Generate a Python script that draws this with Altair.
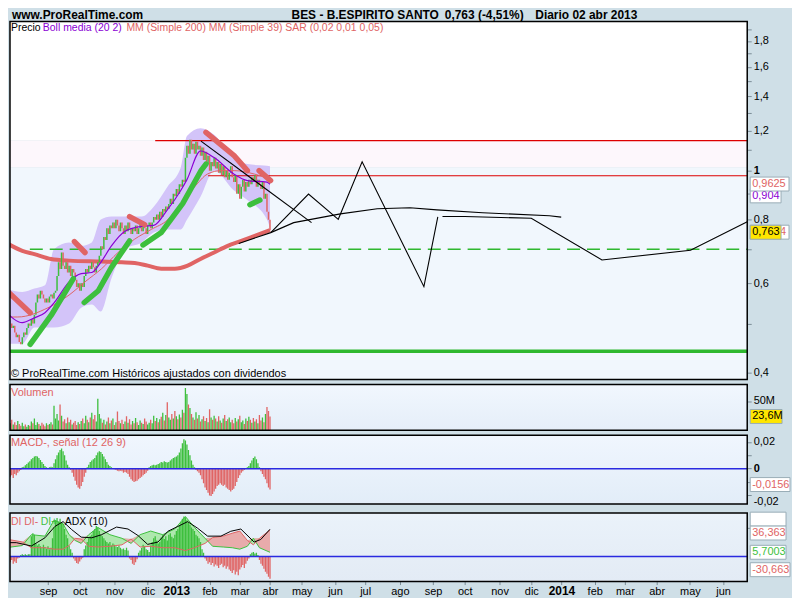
import json
import altair as alt
import numpy as np
import pandas as pd

# ---------------- calendar / axis labels ----------------
ORIGIN = "2012-09-03"          # trading-day index 0
FIRST_BAR_DATE = "2012-07-27"
HOLIDAYS = ["2012-12-25", "2012-12-26", "2013-01-01", "2013-03-29", "2013-04-01",
            "2013-05-01", "2013-12-25", "2013-12-26", "2014-01-01"]
MONTH_STARTS = ["2012-09-01", "2012-10-01", "2012-11-01", "2012-12-01", "2013-01-01",
                "2013-02-01", "2013-03-01", "2013-04-01", "2013-05-01", "2013-06-01",
                "2013-07-01", "2013-08-01", "2013-09-01", "2013-10-01", "2013-11-01",
                "2013-12-01", "2014-01-01", "2014-02-01", "2014-03-01", "2014-04-01",
                "2014-05-01", "2014-06-01"]
MONTH_LABELS = ["sep", "oct", "nov", "dic", "2013", "feb", "mar", "abr", "may", "jun",
                "jul", "ago", "sep", "oct", "nov", "dic", "2014", "feb", "mar", "abr",
                "may", "jun"]

# ---------------- daily series (one value per trading day) ----------------
CLOSE = [0.50, 0.49, 0.495, 0.48, 0.47, 0.475, 0.46, 0.455,
         0.47, 0.48, 0.475, 0.49, 0.50, 0.495, 0.51,
         0.50, 0.52, 0.55, 0.57, 0.56, 0.58, 0.57, 0.56, 0.55,
         0.56, 0.55, 0.565, 0.57, 0.56, 0.575, 0.58,
         0.62, 0.66, 0.64, 0.69, 0.65,
         0.64, 0.66, 0.63, 0.65, 0.62, 0.64, 0.63,
         0.61, 0.59, 0.60, 0.58, 0.60, 0.59,
         0.62, 0.64, 0.63, 0.65, 0.64, 0.66, 0.645, 0.63, 0.65, 0.66,
         0.68, 0.71, 0.70, 0.74, 0.73, 0.77, 0.75, 0.78, 0.77,
         0.79, 0.77, 0.80, 0.78, 0.76, 0.79, 0.77, 0.75, 0.78, 0.76, 0.79, 0.77, 0.75,
         0.77, 0.76, 0.78, 0.75, 0.77, 0.79, 0.76, 0.78, 0.77, 0.75, 0.78, 0.79, 0.77,
         0.79, 0.81, 0.80, 0.82, 0.80, 0.83, 0.81, 0.84, 0.83, 0.85, 0.84, 0.86,
         0.88, 0.86, 0.90, 0.89, 0.92, 0.90, 0.94, 0.93, 0.96, 0.95,
         1.06, 1.12, 1.08, 1.15, 1.10,
         1.13, 1.08, 1.14, 1.10, 1.12, 1.07, 1.11,
         1.05, 1.09, 1.03, 1.07, 1.00, 1.04, 1.02, 1.06,
         1.01, 1.04, 0.99, 1.03, 0.98, 1.02, 0.97, 1.00, 0.96, 0.99, 1.02, 0.97, 0.95,
         0.98, 0.90, 0.94, 0.88, 0.93, 0.96, 0.91, 0.95, 0.93,
         0.96, 0.94, 0.97, 0.95, 0.98, 0.93, 0.96, 0.94,
         0.92, 0.95, 0.88, 0.90, 0.83, 0.80, 0.763]

VOLUME_M = [12, 18, 10, 14, 9, 16, 11,
            8, 13, 7, 10, 6, 9, 8,
            15, 12, 20, 9, 14, 11, 8, 13, 10, 7, 12, 9,
            11, 14, 10,
            42, 20, 28, 17, 44, 25,
            15, 19, 12, 22, 14, 18, 10, 13, 16, 9, 14, 11,
            16, 20, 12, 25, 18, 14, 22, 30, 19, 26, 15, 54, 28, 20,
            13, 18, 10, 15, 22, 12, 17, 20, 9, 14, 32, 16, 12,
            18, 11, 15, 24, 13, 19, 10, 16, 12, 21, 14, 9, 17, 13, 11, 20, 15, 10,
            13, 18, 12, 25, 16, 21, 14, 19, 23, 30, 17, 26, 48, 22,
            18, 28, 20, 33, 24, 19, 27, 22, 35, 30,
            72, 62, 44, 38, 28,
            22, 18, 31, 20, 26, 15, 19, 24, 16, 21, 14,
            36, 22, 18, 25, 20, 15, 24, 17, 13, 20, 26, 16, 19, 22, 14,
            18, 12, 21, 15, 19, 25, 14, 17, 11, 20, 16, 23, 18, 13, 21,
            15, 19, 12, 26, 17, 22, 14, 28, 40, 33, 23.6]

MACD_HIST_MILLI = [-6, -5, -7, -4, -5, -3,
                   -2, -1, 1,
                   1.5, 2.5, 3.5, 4.5, 5.5, 7, 8, 9, 9.5, 9, 8, 6.5, 5, 3.5, 2,
                   1, 0.5, 1, 1.5, 1,
                   4, 7, 10, 12, 14, 15, 13, 10, 6,
                   3, 1, -1,
                   -3, -6, -9, -12, -14, -15, -13, -10, -6, -3,
                   1, 3, 5, 6, 7, 8, 10, 12, 13, 12.5, 11, 9, 7, 5, 3, 2, 1,
                   0.5, -0.5,
                   -1, -1.5, -2, -1.5, -2, -3, -2.5, -3, -4, -6, -8, -9, -10, -9.5, -9, -8,
                   -7, -6, -5, -4, -3, -1.5,
                   1, 2, 2.5, 3, 2.5, 3, 3.5,
                   4, 5, 4.5, 5.5, 5, 4.5, 5,
                   6, 7, 8, 8.5, 9, 10,
                   12, 15, 19, 22, 21, 18,
                   14, 10, 6, 3,
                   1, -1,
                   -2, -3, -5, -8, -11, -14, -16,
                   -18, -20, -20.5, -19, -17, -15, -13,
                   -12, -11, -12, -13, -12, -14, -15,
                   -16, -17, -16, -15, -13, -10, -7,
                   -5, -3, -2, -1, 0.5, 1,
                   2, 4, 6, 8, 9, 7, 4, 1,
                   -2, -4, -6, -8, -11, -14, -15.6]

DI_HIST = [-8, -5, -10, -7, -9, -3, -2,
           2, 3, 2, 3, 2, 3, 3,
           28, 32, 30,
           18, 15, 17, 14, 12, 16, 13, 11, 14, 10, 12,
           25, 40, 50, 53, 48, 52, 47, 45, 38, 30, 25,
           15, 10, 5, -3, -6, -9, -10, -7, -4, -2,
           10, 15, 20, 25, 28, 30, 35, 38, 42, 40, 35, 30,
           28, 25, 22, 20, 18, 20, 15, 18, 16, 14, 13, 15, 12, 10, 11, 9, 12, 8,
           -3, -5, -10, -12, -8, -4,
           5, 8, 12, 16, 14, 10, 9, 6,
           15, 20, 25, 28, 22, 18, 20, 26, 30, 24, 28, 22, 30, 32, 27, 25, 30, 35, 38,
           42, 48, 52, 55, 54, 50, 47, 44, 40, 38, 35, 30, 28, 25, 20,
           10, 5,
           -3, -6, -10, -8, -12, -9, -14, -11, -13, -16, -12, -10, -15, -13, -17,
           -14, -18, -20, -23, -19, -25, -21, -26, -18, -15, -12, -16, -10, -6, -3,
           3, 5, 6, 4, 5, 2,
           -5, -10, -13, -17, -21, -24, -28, -30.663]

# ---------------- indicator lines (trading-day index, value) ----------------
BB_IDX = [-29, -18, -10, -3, 3, 13, 21, 28, 34, 41, 50, 61, 69, 78, 87, 91, 100, 109, 122, 131, 144, 146]
BB_UP = [0.586, 0.577, 0.586, 0.595, 0.70, 0.722, 0.711, 0.722, 0.801, 0.812, 0.812, 0.812, 0.849,
         0.929, 1.015, 1.17, 1.212, 1.177, 1.061, 1.03, 1.022, 1.02]
BB_MID = [0.528, 0.502, 0.513, 0.525, 0.549, 0.604, 0.627, 0.630, 0.660, 0.711, 0.760, 0.777, 0.780,
          0.837, 0.915, 0.96, 1.093, 1.061, 0.985, 0.956, 0.949, 0.94]
BB_LOW = [0.456, 0.456, 0.491, 0.491, 0.491, 0.50, 0.537, 0.545, 0.528, 0.613, 0.70, 0.722, 0.755,
          0.766, 0.766, 0.80, 0.888, 1.0, 0.915, 0.875, 0.801, 0.77]

MM39_IDX = [-29, -21, -1, 13, 23.5, 34.5, 45.4, 56.4, 67.4, 78.4, 87, 96, 104.7, 113.5, 122.3, 135.5, 146]
MM39 = [0.515, 0.515, 0.537, 0.569, 0.604, 0.641, 0.69, 0.733, 0.766, 0.801, 0.862, 0.929, 0.985,
        1.0, 1.0, 0.985, 0.9625]

MM200_IDX = [-29, -18, -10, 1, 13, 34.5, 48, 56.4, 65, 74, 83, 91.5, 100, 109, 118, 127, 135.5, 146]
MM200 = [0.722, 0.695, 0.685, 0.670, 0.665, 0.662, 0.660, 0.658, 0.650, 0.641, 0.641, 0.650, 0.670,
         0.690, 0.711, 0.727, 0.743, 0.7634]

SAR_SEG = ["r1", "r1", "g1", "g1", "g1", "r2", "r2", "g2", "g2", "g2", "g2", "r3", "r3",
           "g3", "g3", "g3", "g3", "g3", "r4", "r4", "r4", "g4", "g4", "r5", "r5"]
SAR_IDX = [-29, -12.8, -12.8, 1.5, 15.8, 16.5, 23.5, 23, 32.3, 41, 53, 53, 63,
           61.9, 74, 88.3, 100.3, 103.6, 103.6, 122.3, 131, 132.7, 139.3, 138.8, 146.4]
SAR_VAL = [0.583, 0.525, 0.455, 0.521, 0.613, 0.725, 0.690, 0.55, 0.58, 0.645, 0.727, 0.812, 0.783,
           0.714, 0.755, 0.862, 1.0, 1.03, 1.19, 1.07, 1.0, 0.857, 0.875, 1.0, 0.956]

DRAW_LINE = ["a", "a",
             "b", "b", "b", "b", "b", "b", "b", "b", "b", "b",
             "c", "c", "c", "c", "c", "c",
             "d", "d", "d", "d", "d", "d"]
DRAW_IDX = [100.3, 173.5,
            125.3, 146.5, 161.7, 192.6, 217, 238.7, 256.5, 286.8, 331, 338.8,
            146.5, 171.5, 191.2, 207, 247.9, 257.1,
            260.2, 274.9, 319, 365.8, 424.4, 462]
DRAW_VAL = [1.143, 0.790,
            0.719, 0.755, 0.790, 0.822, 0.841, 0.845, 0.837, 0.826, 0.815, 0.810,
            0.755, 0.899, 0.802, 1.041, 0.591, 0.811,
            0.812, 0.812, 0.806, 0.667, 0.697, 0.793]

RED_LEVEL_START = [70, 105]
RED_LEVEL = [1.146, 0.977]
GREEN_DASH_START, GREEN_DASH_LEVEL = -13, 0.70
GREEN_THICK_LEVEL = 0.441

DI_IDX = [-29, -18, -12, -3, 3, 9, 13, 17, 21, 26, 32, 40, 48, 54, 60, 67, 75, 83, 90, 96, 103, 108,
          115, 121, 126, 131, 135, 139, 146]
DI_PLUS = [12, 15, 30, 28, 50, 45, 30, 22, 18, 30, 40, 30, 25, 18, 30, 35, 30, 38, 55, 40, 25, 14,
           13, 12, 10, 14, 25, 12, 5.7003]
DI_MINUS = [24, 20, 12, 12, 10, 10, 15, 25, 24, 14, 13, 14, 16, 24, 13, 14, 12, 12, 8, 12, 18, 26,
            28, 32, 35, 22, 16, 25, 36.363]
ADX_IDX = [-29, -22, -12, -3, 3.6, 9, 14.7, 21, 28, 34.5, 44.4, 52, 58.6, 65, 71.8, 78.4, 85, 91.5,
           98, 104.7, 113.5, 120, 126.7, 135.5, 139.9, 146]
ADX = [19, 19, 14.4, 25.7, 41.4, 48, 37, 26.6, 25.7, 30, 40.5, 37.8, 28.8, 16.6, 19.8, 34.7, 41.4,
       48, 39, 28, 28, 34.7, 37.8, 19.8, 23.4, 37.5]

# ---------------- layout ----------------
W = 741
H_MAIN, H_VOL, H_MACD, H_DI = 360, 46, 69, 69
X_MIN, X_MAX = -26.15, 461.97
FONT = "Liberation Sans"
GREEN = "#3dbf3d"
RED = "#e06464"
PURPLE = "#8a00d4"


def busidx(d):
    return int(np.busday_count(ORIGIN, d, holidays=HOLIDAYS))


first = busidx(FIRST_BAR_DATE)
n = len(CLOSE)
opens = [CLOSE[0]] + CLOSE[:-1]
bars = pd.DataFrame({
    "idx": np.arange(first, first + n),
    "open": opens,
    "close": CLOSE,
    "vol": VOLUME_M,
    "macd": MACD_HIST_MILLI,
    "dih": DI_HIST,
    "zero": 0.0,
})
bars["col"] = np.where(bars["close"] >= bars["open"], GREEN, RED)
bars["mcol"] = np.where(bars["macd"] >= 0, GREEN, RED)
bars["dcol"] = np.where(bars["dih"] >= 0, GREEN, RED)

xsc = alt.Scale(domain=[X_MIN, X_MAX], nice=False, zero=False)

MONTH_IDX = [busidx(d) for d in MONTH_STARTS]
YEAR_IDX = [i for i, l in zip(MONTH_IDX, MONTH_LABELS) if l.isdigit()]
year_test = " || ".join(f"datum.value == {i}" for i in YEAR_IDX)
X_AXIS = alt.Axis(
    values=MONTH_IDX,
    labelExpr=f"{json.dumps(MONTH_LABELS)}[indexof({json.dumps(MONTH_IDX)}, datum.value)]",
    labelFontWeight={"condition": {"test": year_test, "value": "bold"}, "value": "normal"},
    labelFontSize={"condition": {"test": year_test, "value": 12}, "value": 11},
    tickSize=3, labelPadding=1, labelOverlap=False, labelFlush=False, title=None,
)


def xenc(field, axis=None):
    return alt.X(f"{field}:Q", scale=xsc, axis=axis, title=None)


# main price scale (log)
psc = alt.Scale(type="log", domain=[0.3877, 1.967], nice=False)
P_TICKS = [0.4, 0.5, 0.6, 0.7, 0.8, 0.9, 1.0, 1.1, 1.2, 1.3, 1.4, 1.5, 1.6, 1.7, 1.8, 1.9]
P_LABELED = [0.4, 0.6, 0.8, 1.0, 1.2, 1.4, 1.6, 1.8]
MAIN_AXIS = alt.Axis(
    orient="right", values=P_TICKS, title=None,
    labelExpr=f"indexof({json.dumps(P_LABELED)}, datum.value) >= 0 ? replace(format(datum.value, '.1~f'), '.', ',') : ''",
    labelFontWeight={"condition": {"test": "datum.value == 1", "value": "bold"}, "value": "normal"},
)


def ymain(field):
    return alt.Y(f"{field}:Q", scale=psc, axis=MAIN_AXIS, title=None)


def badges(rows, yfn):
    """rows: value, text, text colour, fill, box width, y offset, text x offset"""
    out = []
    for val, txt, tc, fill, w, dy, tx in rows:
        d = pd.DataFrame({"v": [val], "t": [txt]})
        r = 14.0 / w
        path = f"M-1,{-r:.4f}L1,{-r:.4f}L1,{r:.4f}L-1,{r:.4f}Z"
        out.append(alt.Chart(d).mark_point(shape=path, size=w * w, filled=True, fill=fill,
                                           stroke="#98acb6", strokeWidth=1, opacity=1, yOffset=dy)
                   .encode(x=alt.value(W + 3 + w / 2), y=yfn("v")))
        if txt:
            out.append(alt.Chart(d).mark_text(align="left", baseline="middle", font=FONT, fontSize=11,
                                              color=tc, dy=dy)
                       .encode(x=alt.value(W + 5 + tx), y=yfn("v"), text="t:N"))
    return out


def label(txt, x, y, color, size=11, weight="normal"):
    return alt.Chart(pd.DataFrame({"t": [txt]})).mark_text(
        align="left", baseline="middle", font=FONT, fontSize=size, fontWeight=weight, color=color
    ).encode(x=alt.value(x), y=alt.value(y), text="t:N")


def frame(h):
    return alt.Chart(pd.DataFrame({"a": [0]})).mark_rect(filled=False, stroke="#000000", strokeWidth=1.5).encode(
        x=alt.value(0), x2=alt.value(W), y=alt.value(0), y2=alt.value(h))


def grad_bg(h, c1, c2):
    g = alt.LinearGradient(gradient="linear", x1=0, x2=0, y1=0, y2=1,
                           stops=[alt.GradientStop(color=c1, offset=0), alt.GradientStop(color=c2, offset=1)])
    return alt.Chart(pd.DataFrame({"a": [0]})).mark_rect(color=g).encode(
        x=alt.value(0), x2=alt.value(W), y=alt.value(0), y2=alt.value(h))


# ---------------- main panel ----------------
bg_df = pd.DataFrame({"top": [1.967, 1.146, 1.014], "bot": [1.146, 1.014, 0.3877],
                      "c": ["#ffffff", "#fdf7fc", "#f1f7fd"]})
bg = alt.Chart(bg_df).mark_rect().encode(x=alt.value(0), x2=alt.value(W), y=ymain("top"), y2="bot:Q",
                                         color=alt.Color("c:N", scale=None))

bb = pd.DataFrame({"idx": BB_IDX, "up": BB_UP, "mid": BB_MID, "lo": BB_LOW})
band = alt.Chart(bb).mark_area(color="#d3c4f9", interpolate="monotone", clip=True).encode(
    x=xenc("idx"), y=ymain("up"), y2="lo:Q")

red_df = pd.DataFrame({"x0": RED_LEVEL_START, "x1": [X_MAX] * len(RED_LEVEL), "p": RED_LEVEL})
red_lv = alt.Chart(red_df).mark_rule(color="#dd0000", strokeWidth=1.2).encode(
    x=xenc("x0"), x2="x1:Q", y=ymain("p"))
gd_df = pd.DataFrame({"x0": [GREEN_DASH_START], "x1": [X_MAX], "p": [GREEN_DASH_LEVEL]})
green_dash = alt.Chart(gd_df).mark_rule(color="#2fb82f", strokeWidth=1.5, strokeDash=[13, 7]).encode(
    x=xenc("x0"), x2="x1:Q", y=ymain("p"))
gt_df = pd.DataFrame({"x0": [X_MIN], "x1": [X_MAX], "p": [GREEN_THICK_LEVEL]})
green_thick = alt.Chart(gt_df).mark_rule(color="#2fb82f", strokeWidth=3.5).encode(
    x=xenc("x0"), x2="x1:Q", y=ymain("p"))

mm200 = alt.Chart(pd.DataFrame({"idx": MM200_IDX, "v": MM200})).mark_line(
    color=RED, strokeWidth=4, interpolate="monotone", clip=True).encode(x=xenc("idx"), y=ymain("v"))

price_bars = alt.Chart(bars).mark_rule(strokeWidth=1.5, clip=True).encode(
    x=xenc("idx"), y=ymain("open"), y2="close:Q", color=alt.Color("col:N", scale=None))

mm39 = alt.Chart(pd.DataFrame({"idx": MM39_IDX, "v": MM39})).mark_line(
    color=RED, strokeWidth=1, interpolate="monotone", clip=True).encode(x=xenc("idx"), y=ymain("v"))
bmid = alt.Chart(bb).mark_line(color=PURPLE, strokeWidth=1.2, interpolate="monotone", clip=True).encode(
    x=xenc("idx"), y=ymain("mid"))

sar_df = pd.DataFrame({"seg": SAR_SEG, "idx": SAR_IDX, "v": SAR_VAL, "ord": range(len(SAR_SEG))})
sar_df["col"] = np.where(sar_df["seg"].str.startswith("g"), GREEN, RED)
sar = alt.Chart(sar_df).mark_line(strokeWidth=5.5, strokeCap="round", clip=True).encode(
    x=xenc("idx"), y=ymain("v"), detail="seg:N", order="ord:Q", color=alt.Color("col:N", scale=None))

draw_df = pd.DataFrame({"line": DRAW_LINE, "idx": DRAW_IDX, "v": DRAW_VAL, "ord": range(len(DRAW_LINE))})
draws = alt.Chart(draw_df).mark_line(color="#000000", strokeWidth=1.1, clip=True).encode(
    x=xenc("idx"), y=ymain("v"), detail="line:N", order="ord:Q")

main_badges = badges([
    (0.904, "0,904", PURPLE, "#ffffff", 31, 3, 0),
    (0.9625, "0,9625", RED, "#ffffff", 39, 5, 0),
    (0.7634, "4", RED, "#ffffff", 39, 2, 28),
    (0.763, "0,763", "#000000", "#ffe600", 31, 2, 0),
], ymain)

main = alt.layer(
    bg, band, red_lv, green_dash, green_thick, mm200, price_bars, mm39, bmid, sar, draws,
    label("Precio", 1, 7, "#000000", 10.5),
    label("Boll media (20 2)", 33, 7, PURPLE, 10.5),
    label("MM (Simple 200) MM (Simple 39) SAR (0,02 0,01 0,05)", 117, 7, RED, 10.5),
    label("© ProRealTime.com  Históricos ajustados con dividendos", 1, H_MAIN - 6, "#000000"),
    label("www.ProRealTime.com", 2, -6, "#000000", 12, "bold"),
    label("BES - B.ESPIRITO SANTO", 283, -6, "#000000", 12, "bold"),
    label("0,763 (-4,51%)", 437, -6, "#000000", 12, "bold"),
    label("Diario  02 abr 2013", 528, -6, "#000000", 12, "bold"),
    frame(H_MAIN),
    *main_badges,
).properties(width=W, height=H_MAIN)

# ---------------- volume panel ----------------
vsc = alt.Scale(domain=[0, 78], nice=False, zero=False)
V_AXIS = alt.Axis(orient="right", values=[50], labelExpr="datum.value + 'M'", title=None)


def yvol(f):
    return alt.Y(f"{f}:Q", scale=vsc, axis=V_AXIS, title=None)


vol = alt.layer(
    grad_bg(H_VOL, "#f1f7fe", "#e5eef9"),
    alt.Chart(bars).mark_rule(strokeWidth=1.3, clip=True).encode(
        x=xenc("idx"), y=yvol("vol"), y2="zero:Q", color=alt.Color("col:N", scale=None)),
    label("Volumen", 1, 8, RED),
    frame(H_VOL),
    *badges([(23.6, "23,6M", "#000000", "#ffe600", 32, 0, 0)], yvol),
).properties(width=W, height=H_VOL)

# ---------------- MACD panel ----------------
msc = alt.Scale(domain=[-26.4, 24.9], nice=False, zero=False)
M_AXIS = alt.Axis(
    orient="right", values=[-20, -10, 0, 10, 20], title=None,
    labelExpr="datum.value == 20 ? '0,02' : datum.value == 0 ? '0' : datum.value == -20 ? '-0,02' : ''",
    labelFontWeight={"condition": {"test": "datum.value == 0", "value": "bold"}, "value": "normal"},
    labelOffset={"condition": {"test": "datum.value == -20", "value": 6}, "value": 0},
)


def ymacd(f):
    return alt.Y(f"{f}:Q", scale=msc, axis=M_AXIS, title=None)


macd = alt.layer(
    grad_bg(H_MACD, "#f0f6fe", "#e2edf8"),
    alt.Chart(bars).mark_rule(strokeWidth=1.3, clip=True).encode(
        x=xenc("idx"), y=ymacd("macd"), y2="zero:Q", color=alt.Color("mcol:N", scale=None)),
    alt.Chart(pd.DataFrame({"z": [0]})).mark_rule(color="#2a2ae0", strokeWidth=1.5).encode(y=ymacd("z")),
    label("MACD-, señal (12 26 9)", 1, 8, RED),
    frame(H_MACD),
    *badges([(-15.6, "-0,0156", RED, "#ffffff", 40, -5, 0)], ymacd),
).properties(width=W, height=H_MACD)

# ---------------- DI / ADX panel ----------------
dsc = alt.Scale(domain=[-34.7, 60], nice=False, zero=False)
D_AXIS = alt.Axis(orient="right", values=[40], labelExpr="''", title=None)


def ydi(f):
    return alt.Y(f"{f}:Q", scale=dsc, axis=D_AXIS, title=None)


di_df = pd.DataFrame({"idx": DI_IDX, "p": DI_PLUS, "m": DI_MINUS})
di_base = alt.Chart(di_df).transform_calculate(mx="max(datum.p, datum.m)")
di = alt.layer(
    grad_bg(H_DI, "#eaf2fa", "#e3ebf5"),
    di_base.mark_area(color="#aee8ae", clip=True).encode(x=xenc("idx", X_AXIS), y=ydi("mx"), y2="m:Q"),
    di_base.mark_area(color="#e8abab", clip=True).encode(x=xenc("idx", X_AXIS), y=ydi("mx"), y2="p:Q"),
    alt.Chart(bars).mark_rule(strokeWidth=1.3, clip=True).encode(
        x=xenc("idx", X_AXIS), y=ydi("dih"), y2="zero:Q", color=alt.Color("dcol:N", scale=None)),
    alt.Chart(pd.DataFrame({"z": [0]})).mark_rule(color="#2a2ae0", strokeWidth=1.5).encode(y=ydi("z")),
    di_base.mark_line(color=GREEN, strokeWidth=1, clip=True).encode(x=xenc("idx", X_AXIS), y=ydi("p")),
    di_base.mark_line(color=RED, strokeWidth=1, clip=True).encode(x=xenc("idx", X_AXIS), y=ydi("m")),
    alt.Chart(pd.DataFrame({"idx": ADX_IDX, "v": ADX})).mark_line(color="#000000", strokeWidth=1, clip=True).encode(
        x=xenc("idx", X_AXIS), y=ydi("v")),
    label("DI DI-", 1, 9, RED, 10.5),
    label("DI+", 31, 9, GREEN, 10.5),
    label("ADX (10)", 55, 9, "#000000", 10.5),
    frame(H_DI),
    *badges([
        (36.363, "", "#000000", "#ffffff", 36, -11, 0),
        (36.363, "36,363", RED, "#ffffff", 36, 3, 0),
        (5.7003, "5,7003", GREEN, "#ffffff", 36, 0, 0),
        (-30.663, "-30,663", RED, "#ffffff", 40, -9, 0),
    ], ydi),
).properties(width=W, height=H_DI)

chart = alt.vconcat(main, vol, macd, di, spacing=3).resolve_scale(y="independent").properties(
    padding={"left": 0, "top": 0, "right": 0, "bottom": 0}, background="#cfdfe7"
).configure_view(stroke=None).configure_axis(
    labelFont=FONT, labelFontSize=11, labelColor="#000000", tickColor="#7b8c96", tickSize=4,
    labelPadding=2, domain=False, grid=False,
)

chart.save("out.html", embed_options={"renderer": "svg", "actions": False})
